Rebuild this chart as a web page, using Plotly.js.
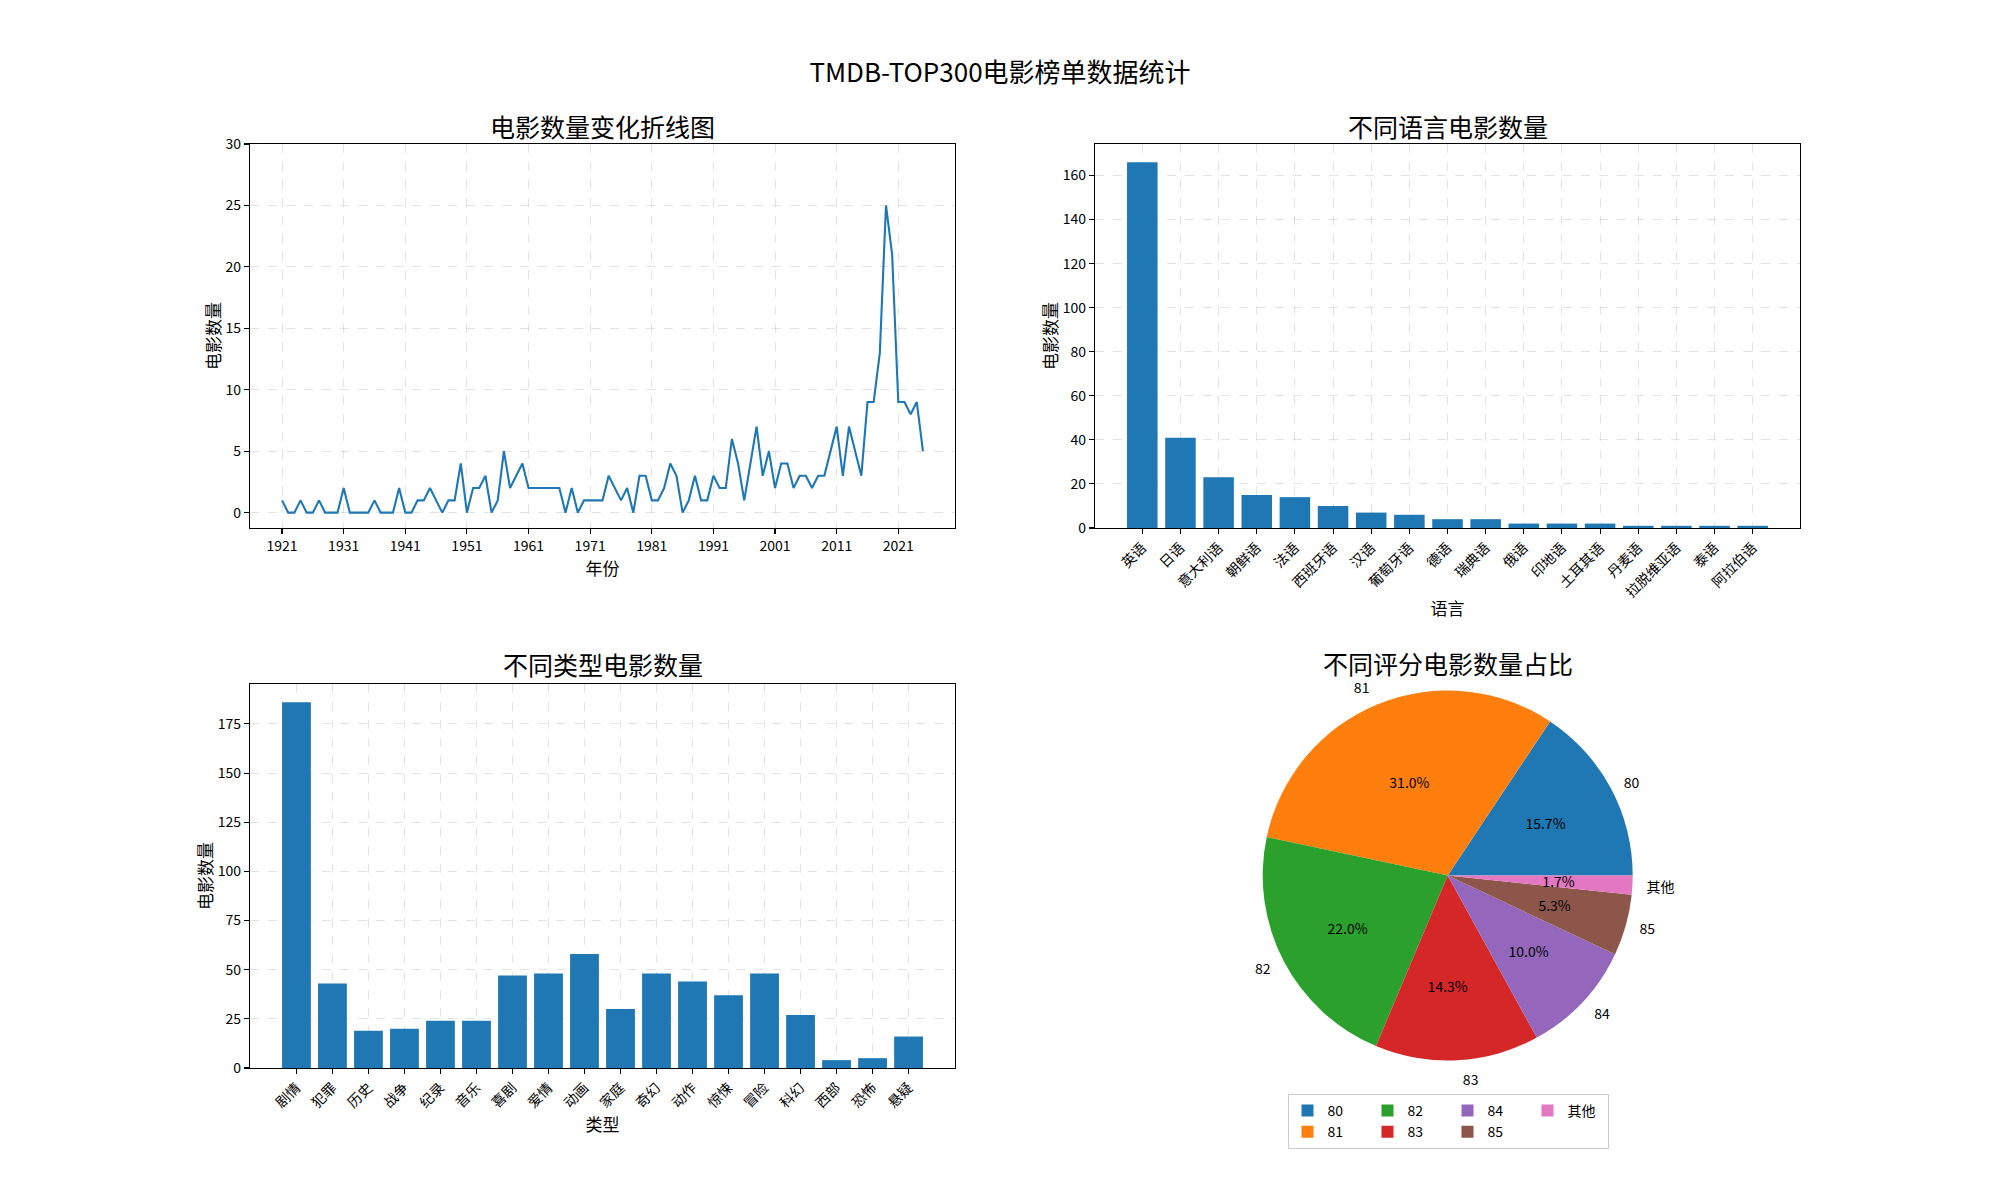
<!DOCTYPE html>
<html><head><meta charset="utf-8">
<script src="https://cdn.plot.ly/plotly-3.0.1.min.js"></script>
<style>body{margin:0;background:#fff}#chart{width:2000px;height:1200px}</style>
</head><body><div id="chart"></div>
<script>
const years = [1921,1922,1923,1924,1925,1926,1927,1928,1929,1930,
  1931,1932,1933,1934,1935,1936,1937,1938,1939,1940,
  1941,1942,1943,1944,1945,1946,1947,1948,1949,1950,
  1951,1952,1953,1954,1955,1956,1957,1958,1959,1960,
  1961,1962,1963,1964,1965,1966,1967,1968,1969,1970,
  1971,1972,1973,1974,1975,1976,1977,1978,1979,1980,
  1981,1982,1983,1984,1985,1986,1987,1988,1989,1990,
  1991,1992,1993,1994,1995,1996,1997,1998,1999,2000,
  2001,2002,2003,2004,2005,2006,2007,2008,2009,2010,
  2011,2012,2013,2014,2015,2016,2017,2018,2019,2020,
  2021,2022,2023,2024,2025];
const yearCounts = [1,0,0,1,0,0,1,0,0,0,
  2,0,0,0,0,1,0,0,0,2,
  0,0,1,1,2,1,0,1,1,4,
  0,2,2,3,0,1,5,2,3,4,
  2,2,2,2,2,2,0,2,0,1,
  1,1,1,3,2,1,2,0,3,3,
  1,1,2,4,3,0,1,3,1,1,
  3,2,2,6,4,1,4,7,3,5,
  2,4,4,2,3,3,2,3,3,5,
  7,3,7,5,3,9,9,13,25,21,
  9,9,8,9,5];
const languages = ['英语','日语','意大利语','朝鲜语','法语','西班牙语','汉语','葡萄牙语','德语','瑞典语','俄语','印地语','土耳其语','丹麦语','拉脱维亚语','泰语','阿拉伯语'];
const languageCounts = [166,41,23,15,14,10,7,6,4,4,2,2,2,1,1,1,1];
const genres = ['剧情','犯罪','历史','战争','纪录','音乐','喜剧','爱情','动画','家庭','奇幻','动作','惊悚','冒险','科幻','西部','恐怖','悬疑'];
const genreCounts = [186,43,19,20,24,24,47,48,58,30,48,44,37,48,27,4,5,16];
const ratingLabels = ['80','81','82','83','84','85','其他'];
const ratingCounts = [47,93,66,43,30,16,5];
const ratingColors = ['#1f77b4','#ff7f0e','#2ca02c','#d62728','#9467bd','#8c564b','#e377c2'];

const FONT = '"Noto Sans CJK SC", "Noto Sans", sans-serif';
const BLUE = '#1f77b4';
const W = 2000, H = 1200;

// matplotlib-style start: first slice begins at 3 o'clock, counterclockwise
const totalRatings = ratingCounts.reduce((a, b) => a + b, 0);
const pieRotation = 90 - 360 * ratingCounts[0] / totalRatings;
// pie geometry (pixels)
const PIE_CX = 1447.7, PIE_CY = 875.5, PIE_R = 185;
function pieDomain(rad){
  return {x:[(PIE_CX - rad)/W, (PIE_CX + rad)/W], y:[1 - (PIE_CY + rad)/H, 1 - (PIE_CY - rad)/H]};
}
const CLEAR = ratingLabels.map(() => 'rgba(0,0,0,0)');
const PCT = '%{percent:.1%}';
const isWide = ratingCounts.map(v => v / totalRatings >= 0.2);
const pieCommon = {type:'pie', labels:ratingLabels, values:ratingCounts, sort:false,
  direction:'counterclockwise', rotation:pieRotation, showlegend:false};

const traces = [
  {type:'scatter', mode:'lines', x:years, y:yearCounts, xaxis:'x', yaxis:'y',
   line:{color:BLUE, width:2.1}, showlegend:false},
  {type:'bar', x:languages, y:languageCounts, xaxis:'x2', yaxis:'y2',
   marker:{color:BLUE}, showlegend:false},
  {type:'bar', x:genres, y:genreCounts, xaxis:'x3', yaxis:'y3',
   marker:{color:BLUE}, showlegend:false},
  // coloured slices (percent text of the wide slices)
  Object.assign({}, pieCommon, {
   marker:{colors:ratingColors, line:{width:0}},
   texttemplate:isWide.map(w => w ? PCT : ''), textposition:'inside', insidetextorientation:'horizontal',
   textfont:{size:14, color:'#000', family:FONT},
   domain:pieDomain(PIE_R), hoverinfo:'label+percent'}),
  // percentage labels of the narrower slices (thin transparent ring so text sits at ~0.6 r)
  Object.assign({}, pieCommon, {
   marker:{colors:CLEAR, line:{width:0}}, hole:0.9,
   texttemplate:isWide.map(w => w ? '' : PCT), textposition:'inside', insidetextorientation:'horizontal',
   textfont:{size:14, color:'#000', family:FONT},
   domain:pieDomain(PIE_R*0.6/0.95), hoverinfo:'skip'}),
  // category labels outside
  Object.assign({}, pieCommon, {
   marker:{colors:CLEAR, line:{width:0}},
   texttemplate:'%{label}', textposition:'outside',
   outsidetextfont:{size:14, color:'#000', family:FONT},
   domain:pieDomain(PIE_R + 9), hoverinfo:'skip'})
];
ratingLabels.forEach((lab, i) => {
  traces.push({type:'bar', x:[lab], y:[0], xaxis:'x5', yaxis:'y5', name:lab,
    marker:{color:ratingColors[i], line:{width:0}}, legendgroup:'g'+Math.floor(i/2), showlegend:true});
});

function ax(extra){
  return Object.assign({
    showline:true, mirror:true, linecolor:'#000', linewidth:1.1,
    ticks:'outside', ticklen:5, tickwidth:1.1, tickcolor:'#000',
    showgrid:true, gridcolor:'rgba(176,176,176,0.35)', griddash:'dash', gridwidth:1,
    zeroline:false, tickfont:{size:14, color:'#000', family:FONT}
  }, extra);
}
const titleFont = {size:17, color:'#000', family:FONT};

const layout = {
  width:W, height:H, margin:{l:0,r:0,t:0,b:0},
  paper_bgcolor:'#fff', plot_bgcolor:'#fff',
  font:{family:FONT, color:'#000'},
  showlegend:true,
  title:{text:'TMDB-TOP300电影榜单数据统计', x:0.5, xanchor:'center', y:1-73/H, yanchor:'middle',
         font:{size:26, color:'#000', family:FONT}},
  bargap:0.2,
  uniformtext:{minsize:14, mode:'show'},
  xaxis: ax({domain:[0.125,0.4775], anchor:'y', range:[1915.8,2030.2], tickmode:'linear', tick0:1921, dtick:10,
    title:{text:'年份', font:titleFont, standoff:0}}),
  yaxis: ax({domain:[0.56,0.88], anchor:'x', range:[-1.25,30], tickmode:'linear', tick0:0, dtick:5,
    title:{text:'电影数量', font:titleFont, standoff:0}}),
  xaxis2: ax({domain:[0.5475,0.9], anchor:'y2', type:'category', range:[-1.24,17.24], tickangle:-45,
    title:{text:'语言', font:titleFont, standoff:2}}),
  yaxis2: ax({domain:[0.56,0.88], anchor:'x2', range:[0,174.3], tickmode:'linear', tick0:0, dtick:20,
    title:{text:'电影数量', font:titleFont, standoff:0}}),
  xaxis3: ax({domain:[0.125,0.4775], anchor:'y3', type:'category', range:[-1.29,18.29], tickangle:-45,
    title:{text:'类型', font:titleFont, standoff:0}}),
  yaxis3: ax({domain:[0.11,0.43], anchor:'x3', range:[0,195.3], tickmode:'linear', tick0:0, dtick:25,
    title:{text:'电影数量', font:titleFont, standoff:0}}),
  xaxis5: {domain:[0,0.005], anchor:'y5', visible:false, showgrid:false, zeroline:false, type:'category'},
  yaxis5: {domain:[0,0.005], anchor:'x5', visible:false, showgrid:false, zeroline:false, range:[0,1]},
  legend:{orientation:'h', traceorder:'grouped', x:0.724, xanchor:'center', y:1-1094/H, yanchor:'top',
    bordercolor:'#cccccc', borderwidth:1, bgcolor:'#fff', entrywidth:35,
    font:{size:14, color:'#000', family:FONT}},
  annotations:[
    {text:'电影数量变化折线图', xref:'paper', yref:'paper', x:0.30125, y:1-126/H, xanchor:'center', yanchor:'middle', showarrow:false, font:{size:25, color:'#000', family:FONT}},
    {text:'不同语言电影数量', xref:'paper', yref:'paper', x:0.72375, y:1-126/H, xanchor:'center', yanchor:'middle', showarrow:false, font:{size:25, color:'#000', family:FONT}},
    {text:'不同类型电影数量', xref:'paper', yref:'paper', x:0.30125, y:1-664/H, xanchor:'center', yanchor:'middle', showarrow:false, font:{size:25, color:'#000', family:FONT}},
    {text:'不同评分电影数量占比', xref:'paper', yref:'paper', x:0.72375, y:1-663/H, xanchor:'center', yanchor:'middle', showarrow:false, font:{size:25, color:'#000', family:FONT}}
  ]
};
Plotly.newPlot('chart', traces, layout, {staticPlot:true});
</script>
</body></html>
